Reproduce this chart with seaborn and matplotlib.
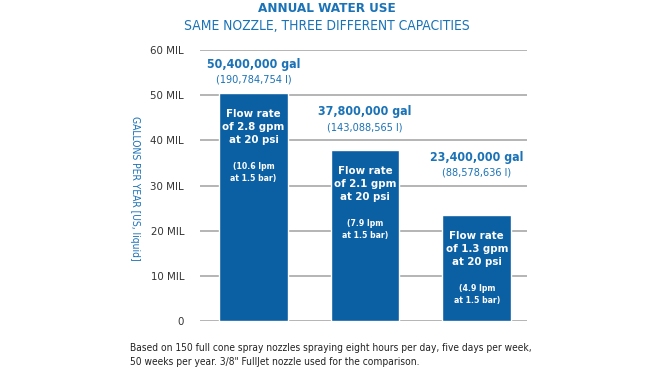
import matplotlib
matplotlib.use('Agg')
import matplotlib.pyplot as plt
import seaborn as sns
import pandas as pd

# Data
flow_labels = ['2.8 gpm', '2.1 gpm', '1.3 gpm']
gallons_mil = [50.4, 37.8, 23.4]
gallon_text = ['50,400,000 gal', '37,800,000 gal', '23,400,000 gal']
liter_text = ['(190,784,754 l)', '(143,088,565 l)', '(88,578,636 l)']
flow_gpm = ['2.8', '2.1', '1.3']
flow_lpm = ['10.6', '7.9', '4.9']
y_ticks = [0, 10, 20, 30, 40, 50, 60]
y_tick_labels = ['0', '10 MIL', '20 MIL', '30 MIL', '40 MIL', '50 MIL', '60 MIL']

BAR_BLUE = '#0b5fa3'
TITLE_BLUE = '#1a72b7'
GRID = '#a8a8a8'

sns.set_theme(style='white')
plt.rcParams['font.family'] = ['DejaVu Sans']
plt.rcParams['font.stretch'] = 'condensed'

df = pd.DataFrame({'flow': flow_labels, 'gallons': gallons_mil})

fig = plt.figure(figsize=(6.6, 3.7), dpi=100)
ax = fig.add_axes([200 / 660, 1 - 321 / 370, 327 / 660, 271 / 370])

sns.barplot(data=df, x='flow', y='gallons', color=BAR_BLUE, saturation=1,
            width=0.615, ax=ax, zorder=3)

ax.set_axisbelow(True)
ax.set_ylim(0, 60)
ax.set_xlim(-0.48, 2.45)
ax.set_yticks(y_ticks)
ax.set_yticklabels(y_tick_labels, fontsize=8.2, color='#333333')
ax.set_xticks([])
ax.set_xlabel('')
ax.tick_params(axis='y', length=0, pad=11.5)
ax.yaxis.grid(True, color=GRID, linewidth=1.2)
for s in ax.spines.values():
    s.set_visible(False)
ax.set_ylabel('GALLONS PER YEAR [US, liquid]', rotation=270, color=TITLE_BLUE,
              fontsize=7.4, labelpad=0)
ax.yaxis.set_label_coords(-0.215, 0.49)

# labels above bars (data-height positions)
label_y = [56.9, 46.3, 36.2]
for i, (g, l) in enumerate(zip(gallon_text, liter_text)):
    ax.text(i, label_y[i], g, ha='center', va='center', color=TITLE_BLUE,
            fontsize=8.9, fontweight='bold')
    ax.text(i, label_y[i] - 3.35, l, ha='center', va='center', color=TITLE_BLUE,
            fontsize=7.8)

# text inside bars
for i, v in enumerate(gallons_mil):
    ax.annotate(f'Flow rate\nof {flow_gpm[i]} gpm\nat 20 psi', (i, v),
                xytext=(0, -11), textcoords='offset points', ha='center', va='top',
                color='white', fontsize=8.2, fontweight='bold', linespacing=1.42)
    ax.annotate(f'({flow_lpm[i]} lpm\nat 1.5 bar)', (i, v),
                xytext=(0, -49.5), textcoords='offset points', ha='center', va='top',
                color='white', fontsize=6.2, fontweight='bold', linespacing=1.45)

fig.text(327 / 660, 1 - 8.5 / 370, 'ANNUAL WATER USE', ha='center', va='center',
         color=TITLE_BLUE, fontsize=9.6, fontweight='bold')
fig.text(327 / 660, 1 - 26 / 370, 'SAME NOZZLE, THREE DIFFERENT CAPACITIES', ha='center',
         va='center', color=TITLE_BLUE, fontsize=9.9)

fig.text(130 / 660, 1 - 355 / 370,
         'Based on 150 full cone spray nozzles spraying eight hours per day, five days per week,\n'
         '50 weeks per year. 3/8" FullJet nozzle used for the comparison.',
         ha='left', va='center', color='#222222', fontsize=7.3, linespacing=1.45)

fig.savefig('out.png', dpi=100)
